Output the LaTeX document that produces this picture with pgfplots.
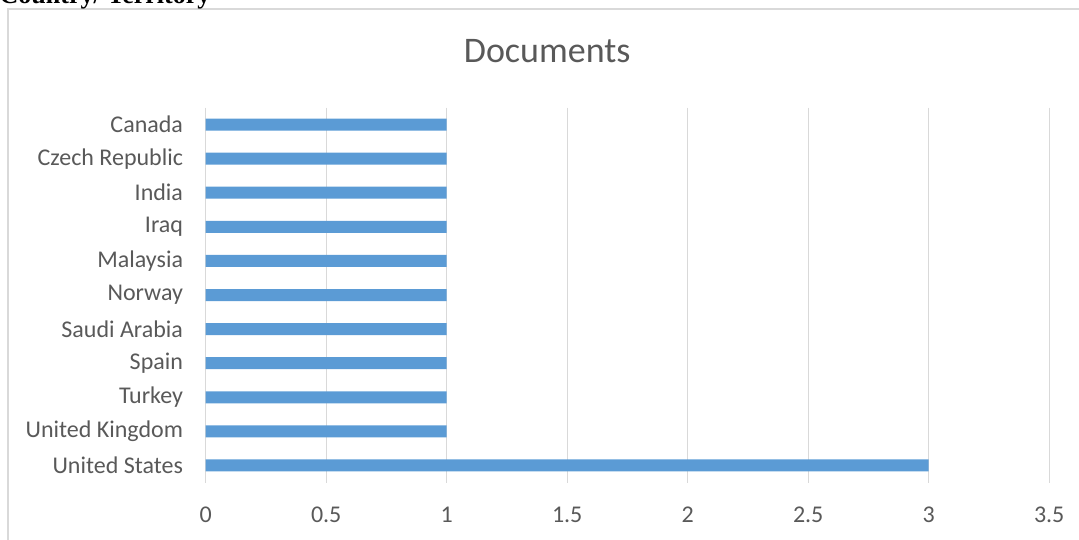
\documentclass[border=0pt]{standalone}
\usepackage{fontspec}
\setmainfont{Carlito}
\newfontfamily\timesfont{Liberation Serif}
\usepackage{pgfplots}
\pgfplotsset{compat=1.18}
\definecolor{barblue}{HTML}{5B9BD5}
\definecolor{gridgray}{HTML}{D9D9D9}
\definecolor{txtgray}{HTML}{595959}
\begin{document}
\begin{tikzpicture}[x=1pt,y=1pt]
\useasboundingbox (0,0) rectangle (1079,539);
\clip (0,0) rectangle (1079,539);
% outer chart frame
\draw[gridgray, line width=1.4pt] (8,-20) -- (8,530) -- (1100,530);
% heading above the frame
\node[anchor=base west, inner sep=0pt, font=\timesfont\bfseries\fontsize{26}{30}\selectfont] at (-0.5,535) {Country/ Territory};
% title
\node[anchor=base, inner sep=0pt, text=txtgray, font=\fontsize{36}{40}\selectfont] at (547.2,476) {Documents};
\begin{axis}[
  at={(205.7pt,56.5pt)}, anchor=south west,
  scale only axis, width=843.5pt, height=375pt,
  xmin=0, xmax=3.5, ymin=-0.5, ymax=10.5,
  y dir=reverse,
  xbar, bar width=12pt,
  axis line style={draw=none},
  major tick length=0pt,
  xmajorgrids, grid style={gridgray, line width=1.3pt},
  xtick={0,0.5,1,1.5,2,2.5,3,3.5},
  xticklabels={0,0.5,1,1.5,2,2.5,3,3.5},
  ytick={0,1,2,3,4,5,6,7,8,9,10},
  yticklabels={Canada,Czech Republic,India,Iraq,Malaysia,Norway,Saudi Arabia,Spain,Turkey,United Kingdom,United States},
  ticklabel style={text=txtgray, font=\fontsize{24}{28}\selectfont, inner sep=0pt},
  xticklabel style={anchor=north, yshift=-24.5pt},
  yticklabel style={anchor=east, xshift=-22.5pt},
]
\addplot[fill=barblue, draw=none] coordinates {
  (1,0) (1,1) (1,2) (1,3) (1,4) (1,5) (1,6) (1,7) (1,8) (1,9) (3,10)
};
\end{axis}
\end{tikzpicture}
\end{document}
